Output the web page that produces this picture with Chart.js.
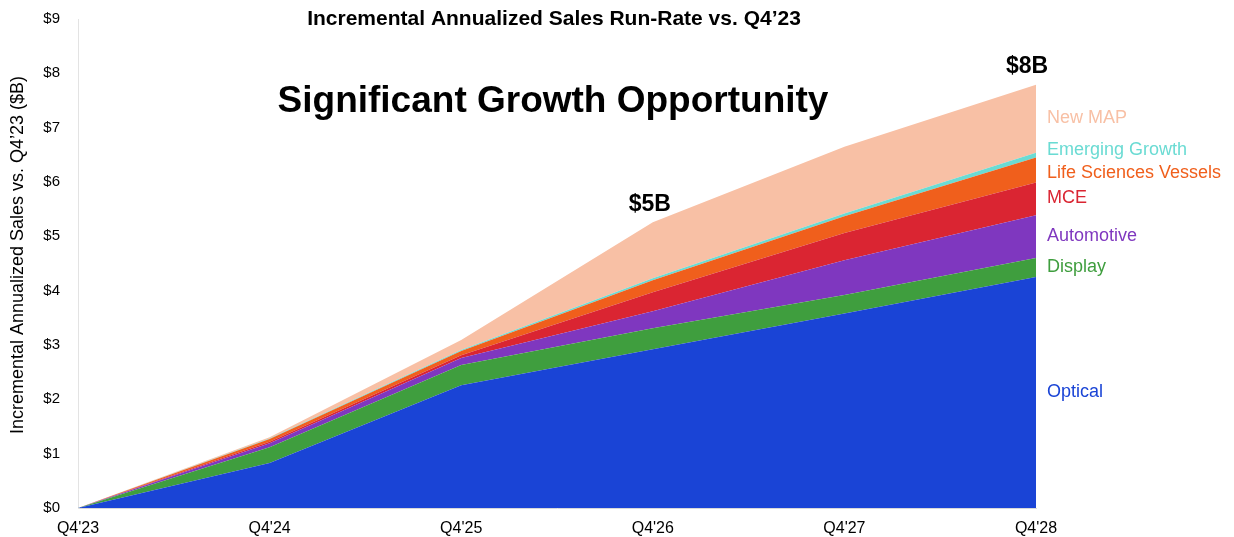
<!DOCTYPE html>
<html>
<head>
<meta charset="utf-8">
<script src="https://cdn.jsdelivr.net/npm/chart.js@4.4.1/dist/chart.umd.min.js"></script>
<style>
  html, body { margin: 0; padding: 0; background: #fff; }
  #wrap { width: 1234px; height: 537px; position: relative; }
</style>
</head>
<body>
<div id="wrap"><canvas id="chart"></canvas></div>
<script>
// dữ liệu (tỷ USD, cộng dồn theo từng mảng)
const quarters = ["Q4'23", "Q4'24", "Q4'25", "Q4'26", "Q4'27", "Q4'28"];
const optical = [0, 0.83, 2.26, 2.92, 3.58, 4.25];
const display = [0, 0.29, 0.37, 0.39, 0.34, 0.35];
const automotive = [0, 0.07, 0.13, 0.31, 0.64, 0.79];
const mce = [0, 0.03, 0.05, 0.35, 0.50, 0.60];
const lifeSciencesVessels = [0, 0.05, 0.08, 0.22, 0.31, 0.46];
const emergingGrowth = [0, 0.01, 0.02, 0.04, 0.05, 0.09];
const newMap = [0, 0.02, 0.18, 1.03, 1.23, 1.25];
const yTicks = [0, 1, 2, 3, 4, 5, 6, 7, 8, 9];
const callouts = [{ index: 3, text: '$5B' }, { index: 5, text: '$8B' }];

const FONT = "'Liberation Sans', Arial, sans-serif";

const series = [
    { label: 'Optical', data: optical, color: '#1a44d6' },
    { label: 'Display', data: display, color: '#3f9e3e' },
    { label: 'Automotive', data: automotive, color: '#7f37bf' },
    { label: 'MCE', data: mce, color: '#da2532' },
    { label: 'Life Sciences Vessels', data: lifeSciencesVessels, color: '#f05f1c' },
    { label: 'Emerging Growth', data: emergingGrowth, color: '#6adbd3' },
    { label: 'New MAP', data: newMap, color: '#f8c0a5' }
];

// vẽ nhãn bên phải, tiêu đề, tiêu đề trục Y và các mức $5B / $8B
const overlayPlugin = {
    id: 'overlay',
    afterDraw(chart) {
        const { ctx, chartArea } = chart;
        const x = chart.scales.x, y = chart.scales.y;
        const last = quarters.length - 1;
        ctx.save();
        ctx.textBaseline = 'middle';

        // nhãn từng mảng, đặt giữa dải ở điểm cuối
        let base = 0;
        const pos = series.map(s => {
            const top = base + s.data[last];
            const mid = (y.getPixelForValue(base) + y.getPixelForValue(top)) / 2;
            base = top;
            return mid - 1;
        });
        for (let pass = 0; pass < 5; pass++) {
            for (let i = 1; i < pos.length; i++) {
                const gap = pos[i - 1] - pos[i];
                if (gap < 23) {
                    const d = (23 - gap) / 2;
                    pos[i - 1] += d;
                    pos[i] -= d;
                }
            }
        }
        ctx.font = '18px ' + FONT;
        ctx.textAlign = 'left';
        series.forEach((s, i) => {
            ctx.fillStyle = s.color;
            ctx.fillText(s.label, chartArea.right + 11, pos[i]);
        });

        // tiêu đề
        ctx.fillStyle = '#000';
        ctx.textAlign = 'center';
        ctx.font = 'bold 21px ' + FONT;
        ctx.fillText("Incremental Annualized Sales Run-Rate vs. Q4’23", 554, 19);
        ctx.font = 'bold 37px ' + FONT;
        ctx.fillText('Significant Growth Opportunity', 553, 102);

        // tiêu đề trục Y
        ctx.save();
        ctx.translate(18, 255);
        ctx.rotate(-Math.PI / 2);
        ctx.font = '18px ' + FONT;
        ctx.fillText('Incremental Annualized Sales vs. Q4’23 ($B)', 0, 0);
        ctx.restore();

        // tổng tại các mốc
        ctx.font = 'bold 23px ' + FONT;
        callouts.forEach(c => {
            const total = series.reduce((sum, s) => sum + s.data[c.index], 0);
            const px = x.getPixelForValue(c.index) - (c.index === last ? 9 : 3);
            ctx.fillText(c.text, px, y.getPixelForValue(total) - 18);
        });
        ctx.restore();
    }
};

const ctx = document.getElementById('chart').getContext('2d');
new Chart(ctx, {
    type: 'line',
    data: {
        labels: quarters,
        datasets: series.map((s, i) => ({
            label: s.label,
            data: s.data,
            backgroundColor: s.color,
            borderColor: s.color,
            borderWidth: 0,
            pointRadius: 0,
            tension: 0,
            fill: i === 0 ? 'origin' : '-1'
        }))
    },
    options: {
        responsive: true,
        maintainAspectRatio: false,
        animation: false,
        layout: { padding: { top: 10, right: 198, left: 0, bottom: 0 } },
        plugins: {
            legend: { display: false },
            tooltip: { enabled: false }
        },
        scales: {
            x: {
                offset: false,
                grid: { display: false },
                border: { display: true, color: '#d9d9d9', width: 1 },
                ticks: { color: '#000', font: { family: FONT, size: 16 }, padding: 3, maxRotation: 0 },
                afterFit: scale => { scale.height = 29; }
            },
            y: {
                stacked: true,
                min: 0,
                max: 9,
                afterBuildTicks: scale => { scale.ticks = yTicks.map(v => ({ value: v })); },
                grid: { display: false },
                border: { display: true, color: '#e3e3e3', width: 1 },
                ticks: {
                    color: '#000',
                    font: { family: FONT, size: 15 },
                    padding: 10,
                    callback: v => '$' + v
                },
                afterFit: scale => { scale.width = 78; }
            }
        }
    },
    plugins: [overlayPlugin]
});
</script>
</body>
</html>
